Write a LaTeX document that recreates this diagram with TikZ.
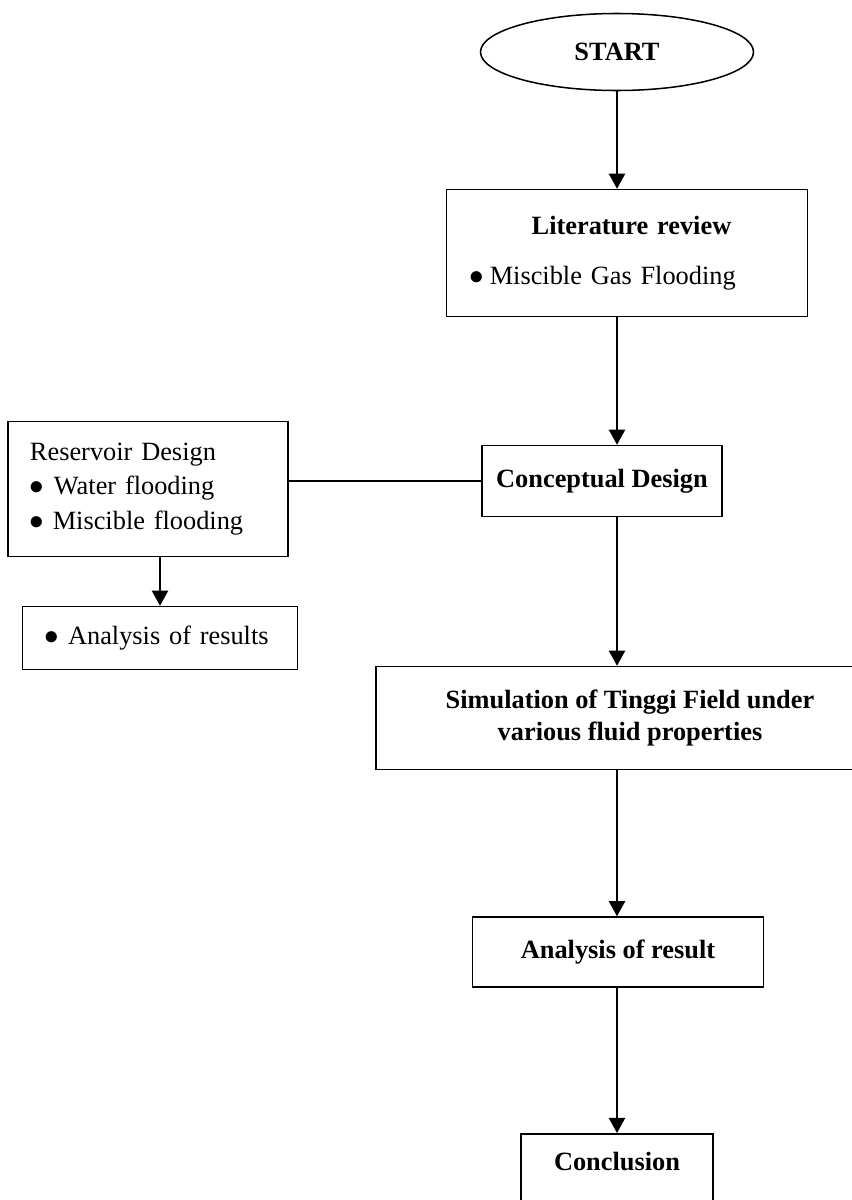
\documentclass[tikz,border=0pt]{standalone}
\usepackage{fontspec}
\setmainfont{Liberation Serif}
\usetikzlibrary{arrows.meta,shapes.geometric}

\newcommand{\bigdot}{\raisebox{0pt}[0pt][0pt]{\fontsize{32}{32}\selectfont$\bullet$}}

\begin{document}
\begin{tikzpicture}[
   x=0.03cm, y=-0.03cm,
   every node/.style={draw, line width=1.3pt, font=\fontsize{22.5}{27}\selectfont},
   boldbox/.style={font=\fontsize{22.5}{27}\selectfont\bfseries},
   terminal/.style={ellipse, boldbox, minimum width=8.19cm, minimum height=2.31cm},
   flow/.style={-{Triangle[length=13pt,width=14pt]}, line width=1.3pt}]

\useasboundingbox (0,0) rectangle (852,1200);

\node[terminal] (start) at (617,52) {START};
\node[minimum width=10.83cm, minimum height=3.81cm, text width=9.72cm, align=left] (lit) at (627,253)
    {\hspace*{2cm}\textbf{Literature review}\\[16pt]\hspace*{4pt}\bigdot\hspace{4.7pt}Miscible Gas Flooding};
\node[boldbox, minimum width=7.2cm, minimum height=2.13cm] (concept) at (602,481) {Conceptual Design};
\node[minimum width=8.4cm, minimum height=4.05cm, text width=7.08cm, align=left,
      font=\fontsize{22.5}{29.5}\selectfont] (res) at (148,489)
    {Reservoir Design\\
     \bigdot\hspace{8pt}Water flooding\\
     \bigdot\hspace{7pt}Miscible flooding};
\node[minimum width=8.25cm, minimum height=1.89cm, text width=7.2cm, align=left] (results) at (160,638)
    {\hspace*{3.5pt}\bigdot\hspace{8pt}Analysis of results};
\node[boldbox, minimum width=15.24cm, minimum height=3.09cm, align=center] (sim) at (630,718)
    {Simulation of Tinggi Field under\\various fluid properties};
\node[boldbox, minimum width=8.73cm, minimum height=2.1cm] (ana) at (618,952) {Analysis of result};
\node[boldbox, minimum width=5.76cm, anchor=north, inner ysep=12pt, text height=19pt, text depth=40pt] (concl) at (617,1133) {Conclusion};

\draw[flow] (start.south) -- (start.south |- lit.north);
\draw[flow] (lit.south -| start) -- (concept.north -| start);
\draw[line width=1.3pt] (concept.west) -- (concept.west -| res.east);
\draw[flow] (res.south -| results) -- (results.north);
\draw[flow] (concept.south -| start) -- (sim.north -| start);
\draw[flow] (sim.south -| start) -- (ana.north -| start);
\draw[flow] (ana.south -| concl) -- (concl.north);

\end{tikzpicture}
\end{document}
